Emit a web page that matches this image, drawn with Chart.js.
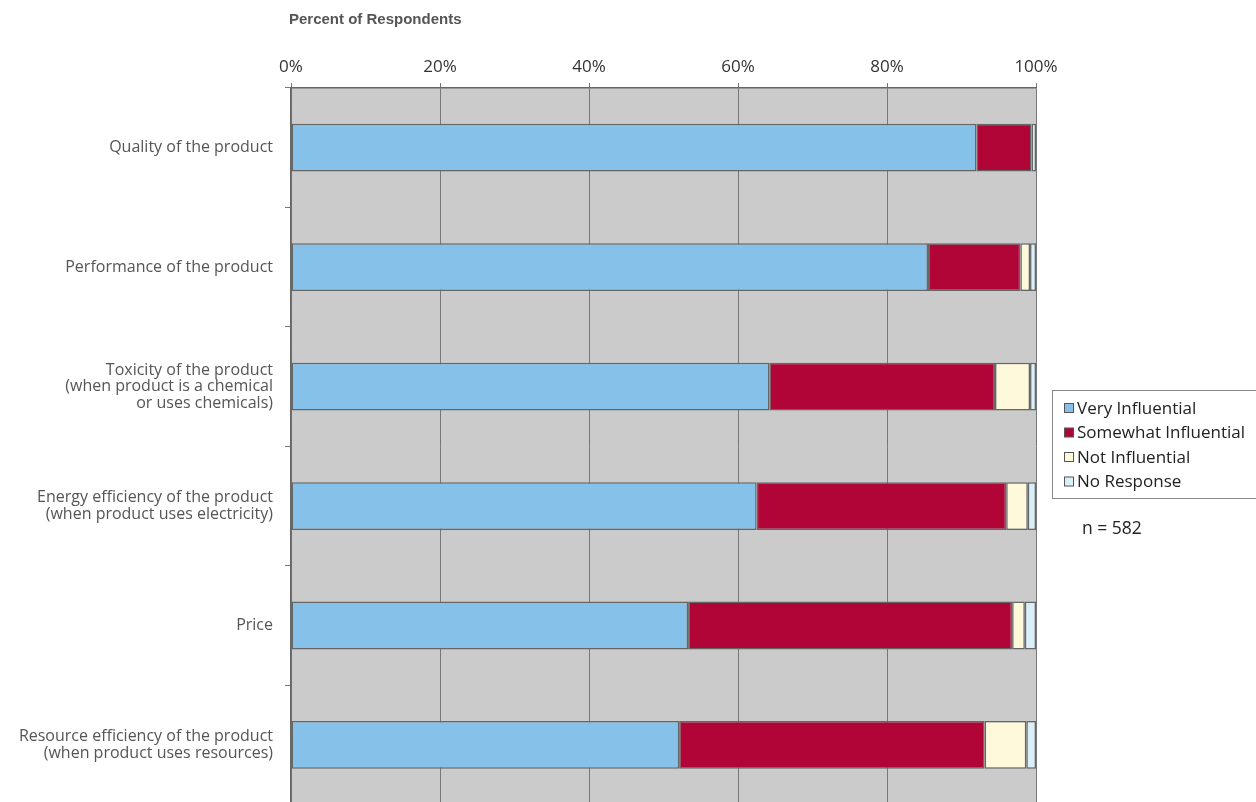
<!DOCTYPE html>
<html>
<head>
<meta charset="utf-8">
<title>Purchase influence</title>
<script src="https://cdn.jsdelivr.net/npm/chart.js@4/dist/chart.umd.min.js"></script>
<style>
	body { margin: 0; background: #fff; overflow: hidden; }
	#influence-chart { display: block; }
</style>
</head>
<body>
<canvas id="influence-chart" width="1256" height="825"></canvas>
<script>
var categories = [
	'Quality of the product',
	'Performance of the product',
	['Toxicity of the product', '(when product is a chemical', 'or uses chemicals)'],
	['Energy efficiency of the product', '(when product uses electricity)'],
	'Price',
	['Resource efficiency of the product', '(when product uses resources)']
];
var veryInfluential     = [92.0, 85.5, 64.2, 62.5, 53.3, 52.1];
var somewhatInfluential = [ 7.4, 12.4, 30.3, 33.5, 43.5, 41.0];
var notInfluential      = [ 0.0,  1.3,  4.7,  2.9,  1.7,  5.6];
var noResponse          = [ 0.6,  0.8,  0.8,  1.1,  1.5,  1.3];
var seriesNames  = ['Very Influential', 'Somewhat Influential', 'Not Influential', 'No Response'];
var seriesColors = ['#85c1e9', '#b10537', '#fef9da', '#daf0f8'];
var percentTicks = [0, 20, 40, 60, 80, 100];
var axisTitle = 'Percent of Respondents';
var sampleNote = 'n = 582';

(function() {
	'use strict';

	var FONT = '"Open Sans", "Liberation Sans", sans-serif';
	var TITLE_FONT = '"Liberation Sans", Arial, sans-serif';

	function InfluenceChart(canvasId) {
		this.canvas = document.getElementById(canvasId);
		this.chartObject = null;
		this.init();
		return this;
	}

	InfluenceChart.prototype.init = function() {
		var _this = this;
		var seriesValues = [veryInfluential, somewhatInfluential, notInfluential, noResponse];

		var dataSets = seriesNames.map(function(name, i) {
			return {
				label: name,
				data: seriesValues[i],
				backgroundColor: seriesColors[i],
				borderColor: '#666666',
				borderWidth: 1.5,
				borderSkipped: false,
				barPercentage: 0.4,
				categoryPercentage: 1
			};
		});

		_this.chartObject = new Chart(_this.canvas, {
			type: 'bar',
			data: { labels: categories, datasets: dataSets },
			options: {
				indexAxis: 'y',
				responsive: false,
				animation: false,
				layout: { padding: { left: 0, right: 220, top: 0, bottom: 5 } },
				plugins: {
					legend: { display: false },
					tooltip: { enabled: false }
				},
				scales: {
					x: {
						position: 'top',
						stacked: true,
						min: 0,
						max: 100,
						afterBuildTicks: function(scale) {
							scale.ticks = percentTicks.map(function(v) { return { value: v }; });
						},
						afterFit: function(scale) { scale.height = 88; },
						grid: { color: '#777777', lineWidth: 1, tickLength: 5 },
						border: { color: '#666666', width: 1.5 },
						ticks: {
							color: '#333333',
							padding: 6,
							font: { family: FONT, size: 17 },
							callback: function(v) { return v + '%'; }
						}
					},
					y: {
						stacked: true,
						afterFit: function(scale) { scale.width = 291; },
						grid: { offset: true, drawOnChartArea: false, color: '#777777', tickLength: 6 },
						border: { color: '#666666', width: 1.5 },
						ticks: {
							color: '#555555',
							padding: 12,
							font: { family: FONT, size: 16, lineHeight: 1.04 }
						}
					}
				}
			},
			plugins: [_this.backgroundPlugin(), _this.decorPlugin()]
		});
	};

	// Grey plot area behind grid lines and bars
	InfluenceChart.prototype.backgroundPlugin = function() {
		return {
			id: 'plotBackground',
			beforeDraw: function(chart) {
				var a = chart.chartArea;
				var ctx = chart.ctx;
				ctx.save();
				ctx.fillStyle = '#cbcbcb';
				ctx.fillRect(a.left, a.top, a.right - a.left, a.bottom - a.top);
				ctx.restore();
			}
		};
	};

	// Axis title, boxed legend and sample size note
	InfluenceChart.prototype.decorPlugin = function() {
		return {
			id: 'decor',
			afterDraw: function(chart) {
				var ctx = chart.ctx;
				var a = chart.chartArea;
				ctx.save();

				ctx.fillStyle = '#555555';
				ctx.font = 'bold 15px ' + TITLE_FONT;
				ctx.textAlign = 'left';
				ctx.textBaseline = 'middle';
				ctx.fillText(axisTitle, a.left - 2, 20);

				var boxX = 1052.5, boxY = 390.5;
				ctx.strokeStyle = '#888888';
				ctx.lineWidth = 1;
				ctx.fillStyle = '#ffffff';
				ctx.fillRect(boxX, boxY, 220, 108);
				ctx.strokeRect(boxX, boxY, 220, 108);

				ctx.font = '17px ' + FONT;
				chart.data.datasets.forEach(function(ds, i) {
					var cy = 408 + i * 24.5;
					ctx.fillStyle = ds.backgroundColor;
					ctx.fillRect(1064, cy - 4.5, 9, 9);
					ctx.strokeStyle = '#555555';
					ctx.strokeRect(1064.5, cy - 4.5, 9, 9);
					ctx.fillStyle = '#222222';
					ctx.fillText(ds.label, 1077, cy + 1);
				});

				ctx.font = '17.5px ' + FONT;
				ctx.fillText(sampleNote, 1082, 529);
				ctx.restore();
			}
		};
	};

	new InfluenceChart('influence-chart');
})();
</script>
</body>
</html>
